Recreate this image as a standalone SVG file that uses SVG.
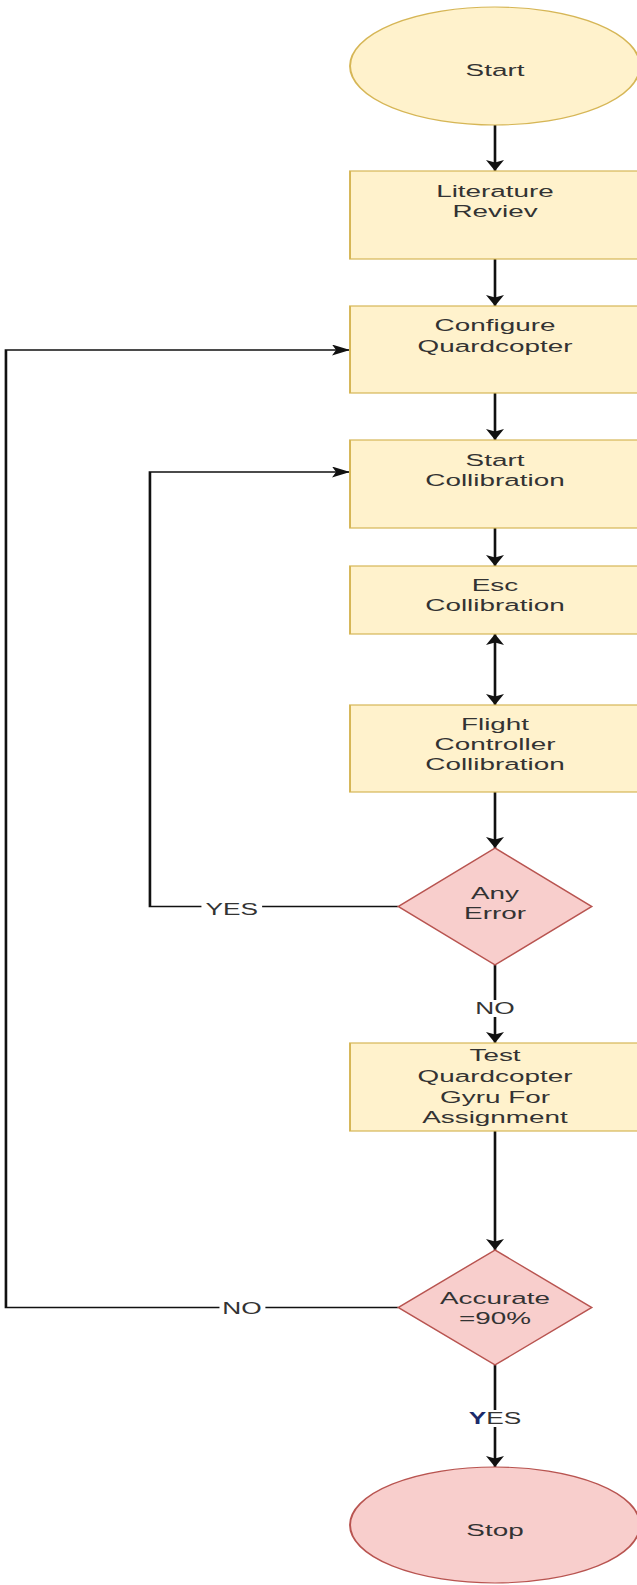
<svg xmlns="http://www.w3.org/2000/svg" width="637" height="1585" viewBox="0 0 637 1585">
  <defs>
    <style>
      .proc{fill:#fff2cc;stroke:#d6b656;stroke-width:1.2}
      .dec{fill:#f8cecc;stroke:#b85450;stroke-width:1.2}
      .lbl{font-family:"Liberation Sans",Arial,sans-serif;font-size:17px;fill:#333;text-anchor:middle}
      .elbl{font-family:"Liberation Sans",Arial,sans-serif;font-size:16px;fill:#333;text-anchor:middle}
      .edge{fill:none;stroke:#111;stroke-width:1.6}
      .bg{fill:#fff}
    </style>
    <marker id="arrow" markerUnits="userSpaceOnUse" markerWidth="11" markerHeight="11" refX="11" refY="5.5" orient="auto-start-reverse" viewBox="0 0 11 11">
      <path d="M0,0 L11,5.5 L0,11 L2.5,5.5 Z" fill="#111"/>
    </marker>
  </defs>
  <rect width="637" height="1585" fill="#fff"/>
  <!-- whole chart drawn around the centre column x=0, widened horizontally -->
  <g transform="translate(495 0) scale(1.64 1)">
    <g id="connectors">
      <path class="edge" d="M0,125 V171" marker-end="url(#arrow)"/>
      <path class="edge" d="M0,259 V306" marker-end="url(#arrow)"/>
      <path class="edge" d="M0,393 V440" marker-end="url(#arrow)"/>
      <path class="edge" d="M0,528 V566" marker-end="url(#arrow)"/>
      <path class="edge" d="M0,634 V705" marker-start="url(#arrow)" marker-end="url(#arrow)"/>
      <path class="edge" d="M0,792 V848" marker-end="url(#arrow)"/>
      <path class="edge" d="M-59,906.5 H-210.4 V472 H-88.4" marker-end="url(#arrow)"/>
      <path class="edge" d="M0,965 V1043" marker-end="url(#arrow)"/>
      <path class="edge" d="M0,1131 V1250" marker-end="url(#arrow)"/>
      <path class="edge" d="M-59,1307.5 H-298.2 V350 H-88.4" marker-end="url(#arrow)"/>
      <path class="edge" d="M0,1365 V1467" marker-end="url(#arrow)"/>
      <!-- edge labels -->
      <rect class="bg" x="-179" y="899" width="37" height="17"/>
      <text class="elbl" x="-160.5" y="915">YES</text>
      <rect class="bg" x="-13" y="1000" width="26" height="17"/>
      <text class="elbl" x="0" y="1014">NO</text>
      <rect class="bg" x="-168" y="1299" width="28" height="17"/>
      <text class="elbl" x="-154.3" y="1314">NO</text>
      <rect class="bg" x="-17" y="1410" width="34" height="17"/>
      <text class="elbl" x="0" y="1424"><tspan fill="#1b2a6b" font-weight="bold">Y</tspan>ES</text>
    </g>

    <g id="start">
      <ellipse class="proc" cx="0" cy="66" rx="88.4" ry="59"/>
      <text class="lbl" x="0" y="76">Start</text>
    </g>

    <g id="literature-review">
      <rect class="proc" x="-88.4" y="171" width="176.8" height="88"/>
      <text class="lbl" x="0" y="197">Literature</text>
      <text class="lbl" x="0" y="217">Reviev</text>
    </g>

    <g id="configure-quardcopter">
      <rect class="proc" x="-88.4" y="306" width="176.8" height="87"/>
      <text class="lbl" x="0" y="331">Configure</text>
      <text class="lbl" x="0" y="352">Quardcopter</text>
    </g>

    <g id="start-collibration">
      <rect class="proc" x="-88.4" y="440" width="176.8" height="88"/>
      <text class="lbl" x="0" y="466">Start</text>
      <text class="lbl" x="0" y="486">Collibration</text>
    </g>

    <g id="esc-collibration">
      <rect class="proc" x="-88.4" y="566" width="176.8" height="68"/>
      <text class="lbl" x="0" y="591">Esc</text>
      <text class="lbl" x="0" y="611">Collibration</text>
    </g>

    <g id="flight-controller-collibration">
      <rect class="proc" x="-88.4" y="705" width="176.8" height="87"/>
      <text class="lbl" x="0" y="730">Flight</text>
      <text class="lbl" x="0" y="750">Controller</text>
      <text class="lbl" x="0" y="770">Collibration</text>
    </g>

    <g id="any-error">
      <polygon class="dec" points="0,848 59,906.5 0,965 -59,906.5"/>
      <text class="lbl" x="0" y="899">Any</text>
      <text class="lbl" x="0" y="919">Error</text>
    </g>

    <g id="test-quardcopter">
      <rect class="proc" x="-88.4" y="1043" width="176.8" height="88"/>
      <text class="lbl" x="0" y="1061">Test</text>
      <text class="lbl" x="0" y="1082">Quardcopter</text>
      <text class="lbl" x="0" y="1103">Gyru For</text>
      <text class="lbl" x="0" y="1123">Assignment</text>
    </g>

    <g id="accurate">
      <polygon class="dec" points="0,1250 59,1307.5 0,1365 -59,1307.5"/>
      <text class="lbl" x="0" y="1304">Accurate</text>
      <text class="lbl" x="0" y="1324">=90%</text>
    </g>

    <g id="stop">
      <ellipse class="dec" cx="0" cy="1525" rx="88.4" ry="58"/>
      <text class="lbl" x="0" y="1536">Stop</text>
    </g>
  </g>
</svg>
